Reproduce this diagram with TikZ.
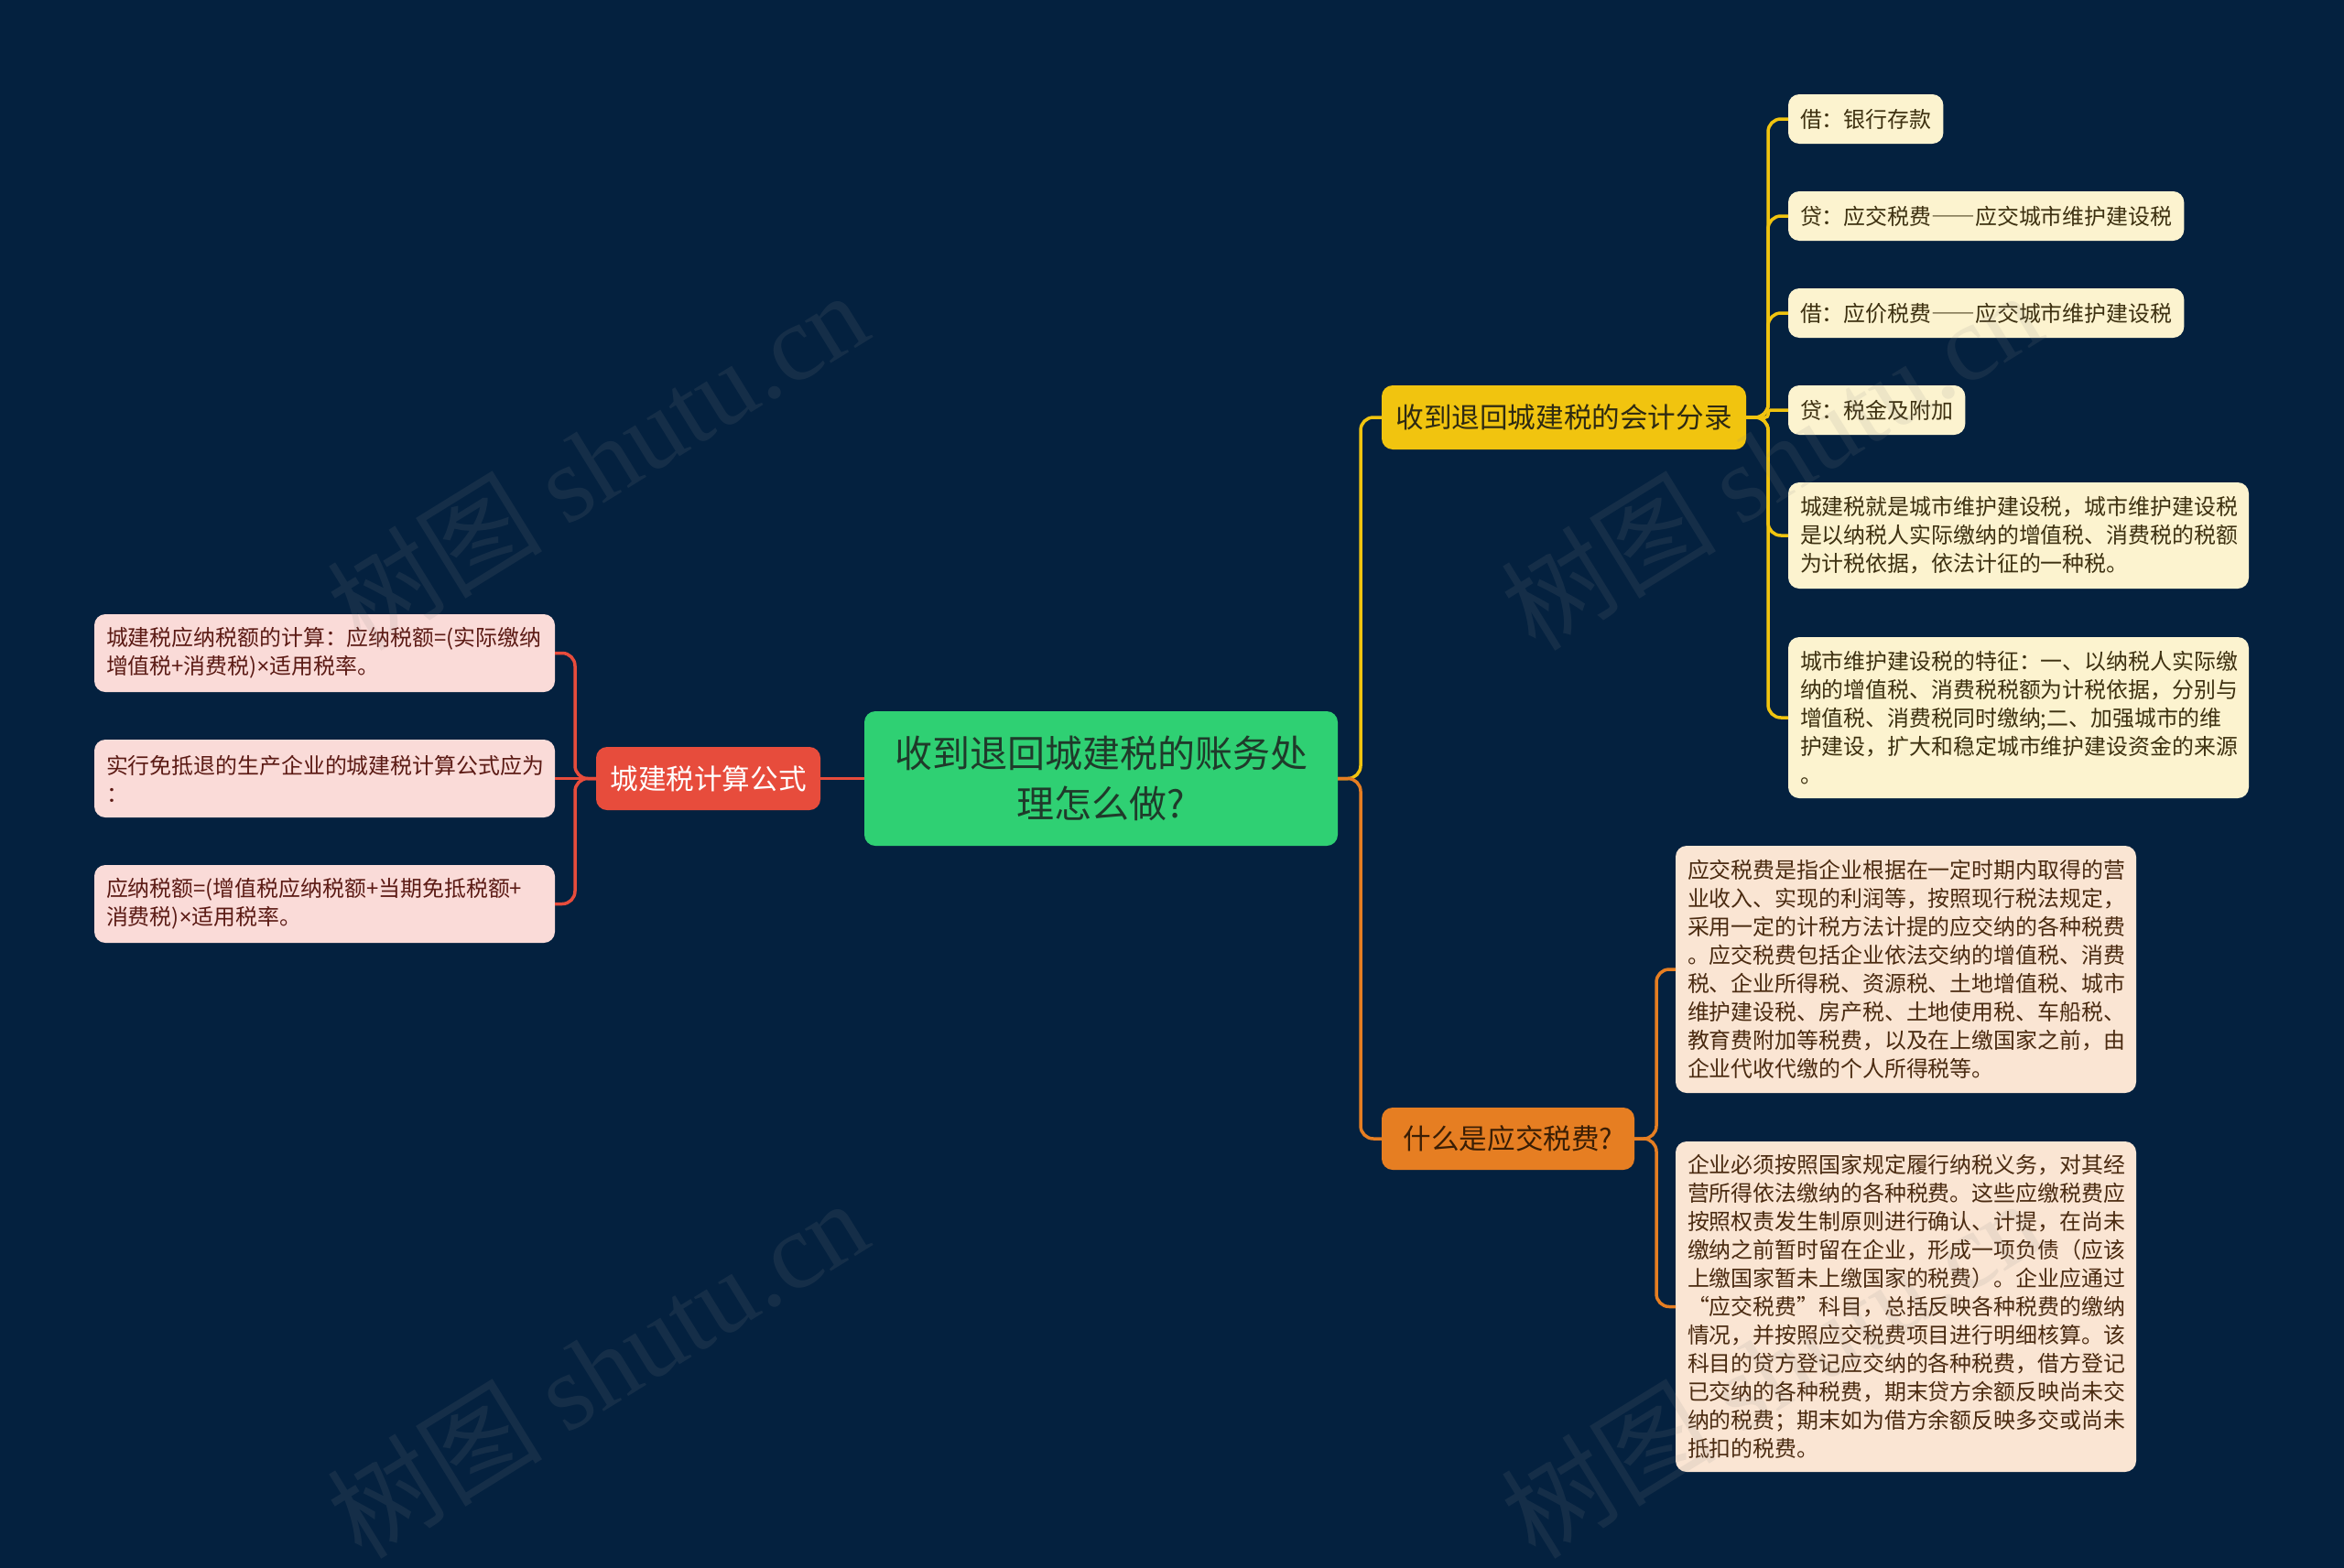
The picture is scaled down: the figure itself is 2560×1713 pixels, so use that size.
\documentclass[tikz,border=0pt]{standalone}
\usepackage{fontspec}
\setmainfont{Noto Sans CJK SC}
\newfontfamily\wmfont{Liberation Serif}
\newfontfamily\latinsans{Noto Sans}
\newcommand{\fdash}{{\addfontfeature{CharacterWidth=Full}——}}
\newcommand{\tms}{{\latinsans ×}}
\usetikzlibrary{positioning}
\definecolor{bg}{HTML}{04213F}
\definecolor{maingreen}{HTML}{2FD073}
\definecolor{maintext}{HTML}{1F3A2A}
\definecolor{redc}{HTML}{E74C3C}
\definecolor{yelc}{HTML}{F1C40F}
\definecolor{yeltext}{HTML}{2E2A12}
\definecolor{orac}{HTML}{E67E22}
\definecolor{oratext}{HTML}{3A1E05}
\definecolor{pinkleaf}{HTML}{FADBD8}
\definecolor{pinktext}{HTML}{5B1A14}
\definecolor{yleaf}{HTML}{FCF3CF}
\definecolor{ytext}{HTML}{3D3010}
\definecolor{oleaf}{HTML}{FAE5D3}
\definecolor{otext}{HTML}{4A2A10}
\definecolor{wm}{HTML}{8A8A8A}
\tikzset{
  box/.style={rounded corners=12, inner xsep=13, inner ysep=0, outer sep=0},
  leaftxt/.style={font=\fontsize{23.9}{31}\selectfont, align=left},
  mainbox/.style={box, fill=maingreen, text=maintext, minimum width=517, minimum height=147,
     font=\fontsize{41}{55}\selectfont, align=center},
  redbox/.style={box, fill=redc, text=white, minimum height=69, font=\fontsize{30.6}{36}\selectfont},
  yelbox/.style={box, fill=yelc, text=yeltext, minimum height=70, font=\fontsize{30.6}{36}\selectfont},
  orabox/.style={box, fill=orac, text=oratext, minimum height=68, font=\fontsize{30.6}{36}\selectfont},
  pinkbox/.style={box, leaftxt, fill=pinkleaf, text=pinktext, minimum width=503, text width=477},
  ybox/.style={box, leaftxt, fill=yleaf, text=ytext},
  yboxw/.style={box, leaftxt, fill=yleaf, text=ytext, minimum width=503, text width=477},
  obox/.style={box, leaftxt, fill=oleaf, text=otext, minimum width=503, text width=477},
  redline/.style={draw=redc, line width=3.5},
  yline/.style={draw=yelc, line width=3.5},
  oline/.style={draw=orac, line width=3.5},
  wmark/.style={text=wm, opacity=0.13, rotate=31.7, font=\fontsize{118}{118}\selectfont}
}
\begin{document}
\begin{tikzpicture}[x=1pt,y=-1pt]
\fill[bg] (0,0) rectangle (2560,1713);
\useasboundingbox (0,0) rectangle (2560,1713);

% nodes
\node[mainbox] (main) at (1202.5,850.5) {收到退回城建税的账务处\\理怎么做?};
\node[redbox, minimum width=245] (calc) at (773.5,850.5) {城建税计算公式};
\node[pinkbox, minimum height=85] (L1) at (354.5,713.5) {城建税应纳税额的计算：应纳税额=(实际缴纳\\增值税+消费税)\tms 适用税率。};
\node[pinkbox, minimum height=85] (L2) at (354.5,850.5) {实行免抵退的生产企业的城建税计算公式应为\\：};
\node[pinkbox, minimum height=85] (L3) at (354.5,987.5) {应纳税额=(增值税应纳税额+当期免抵税额+\\消费税)\tms 适用税率。};

\node[yelbox, minimum width=398] (acct) at (1708,456) {收到退回城建税的会计分录};
\node[orabox, minimum width=276] (what) at (1647,1244) {什么是应交税费?};

\node[ybox, minimum width=168, minimum height=54, anchor=west] (Y1) at (1953,130) {借：银行存款};
\node[ybox, minimum width=431, minimum height=54, anchor=west] (Y2) at (1953,236) {贷：应交税费\fdash 应交城市维护建设税};
\node[ybox, minimum width=431, minimum height=54, anchor=west] (Y3) at (1953,342) {借：应价税费\fdash 应交城市维护建设税};
\node[ybox, minimum width=191, minimum height=54, anchor=west] (Y4) at (1953,448) {贷：税金及附加};
\node[yboxw, minimum height=116, anchor=west] (Y5) at (1953,585) {城建税就是城市维护建设税，城市维护建设税\\是以纳税人实际缴纳的增值税、消费税的税额\\为计税依据，依法计征的一种税。};
\node[yboxw, minimum height=176, anchor=west] (Y6) at (1953,784) {城市维护建设税的特征：一、以纳税人实际缴\\纳的增值税、消费税税额为计税依据，分别与\\增值税、消费税同时缴纳;二、加强城市的维\\护建设，扩大和稳定城市维护建设资金的来源\\。};

\node[obox, minimum height=270, anchor=west] (O1) at (1830,1059) {应交税费是指企业根据在一定时期内取得的营\\业收入、实现的利润等，按照现行税法规定，\\采用一定的计税方法计提的应交纳的各种税费\\。应交税费包括企业依法交纳的增值税、消费\\税、企业所得税、资源税、土地增值税、城市\\维护建设税、房产税、土地使用税、车船税、\\教育费附加等税费，以及在上缴国家之前，由\\企业代收代缴的个人所得税等。};
\node[obox, minimum height=361, anchor=west] (O2) at (1830,1427.5) {企业必须按照国家规定履行纳税义务，对其经\\营所得依法缴纳的各种税费。这些应缴税费应\\按照权责发生制原则进行确认、计提，在尚未\\缴纳之前暂时留在企业，形成一项负债（应该\\上缴国家暂未上缴国家的税费）。企业应通过\\“应交税费”科目，总括反映各种税费的缴纳\\情况，并按照应交税费项目进行明细核算。该\\科目的贷方登记应交纳的各种税费，借方登记\\已交纳的各种税费，期末贷方余额反映尚未交\\纳的税费；期末如为借方余额反映多交或尚未\\抵扣的税费。};

% connectors
\coordinate (lb) at (628,850.5);
\coordinate (tb) at (1486,850.5);
\coordinate (yb) at (1931,456);
\coordinate (ob) at (1809,1244);

\draw[redline] (main.west) -- (calc.east);
\draw[redline, rounded corners=14] (calc.west) -- (lb) |- (L1.east);
\draw[redline] (calc.west) -- (L2.east);
\draw[redline, rounded corners=14] (calc.west) -- (lb) |- (L3.east);

\draw[yline, rounded corners=14] (main.east) -- (tb) |- (acct.west);
\draw[oline, rounded corners=14] (main.east) -- (tb) |- (what.west);

\draw[yline, rounded corners=14] (acct.east) -- (yb) |- (Y1.west);
\draw[yline, rounded corners=14] (acct.east) -- (yb) |- (Y2.west);
\draw[yline, rounded corners=14] (acct.east) -- (yb) |- (Y3.west);
\draw[yline, rounded corners=3] (acct.east) -- (yb) |- (Y4.west);
\draw[yline, rounded corners=14] (acct.east) -- (yb) |- (Y5.west);
\draw[yline, rounded corners=14] (acct.east) -- (yb) |- (Y6.west);

\draw[oline, rounded corners=14] (what.east) -- (ob) |- (O1.west);
\draw[oline, rounded corners=14] (what.east) -- (ob) |- (O2.west);

% watermarks
\node[wmark] (w1) at (652,502) {树图 {\wmfont shutu.cn}};
\node[wmark] (w2) at (652,1494) {树图 {\wmfont shutu.cn}};
\node[wmark] (w3) at (1934,502) {树图 {\wmfont shutu.cn}};
\node[wmark] (w4) at (1934,1494) {树图 {\wmfont shutu.cn}};
\end{tikzpicture}
\end{document}
